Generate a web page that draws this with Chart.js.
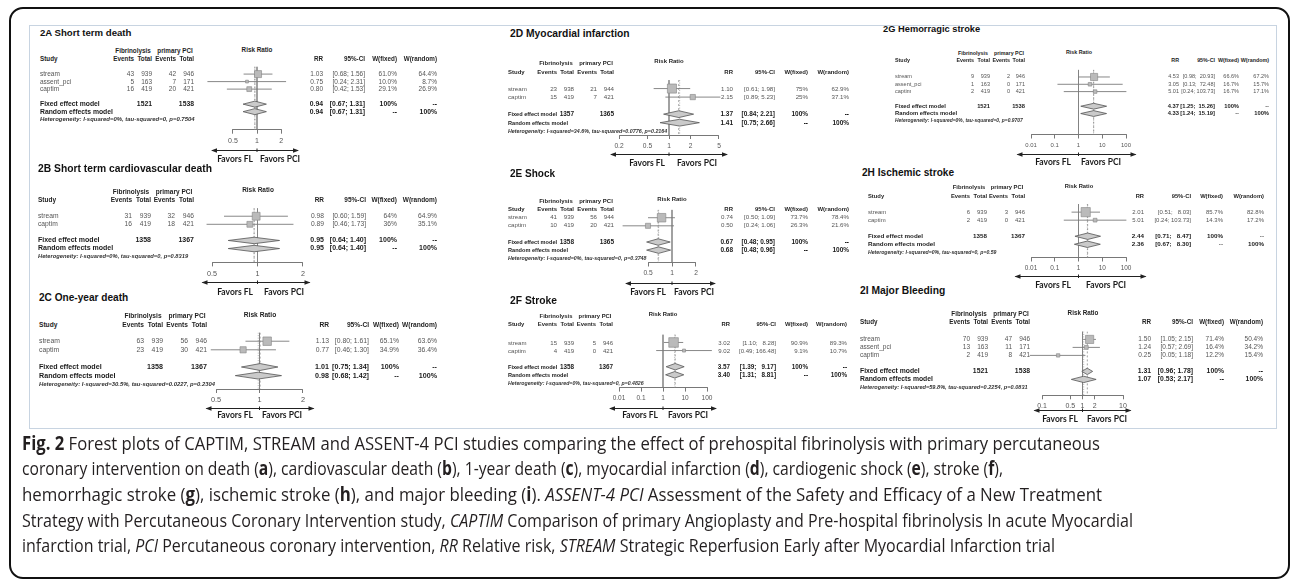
<!DOCTYPE html>
<html>
<head>
<meta charset="utf-8">
<title>Fig. 2 forest plots</title>
<script src="https://cdn.jsdelivr.net/npm/chart.js@4.4.1/dist/chart.umd.min.js"></script>
<style>
  html, body { margin: 0; padding: 0; background: #fff; }
  body { position: relative; width: 1292px; height: 582px; overflow: hidden; font-family: "Liberation Sans", Arial, sans-serif; }
  #frame { position: absolute; left: 9px; top: 7px; width: 1281px; height: 572px; box-sizing: border-box; border: 2px solid #111; border-radius: 14px; }
  #box { position: absolute; left: 29px; top: 25px; width: 1248px; height: 404px; box-sizing: border-box; border: 1.5px solid #c8d4e1; }
  canvas { position: absolute; }
  .t { position: absolute; font-size: 20px; line-height: 1; white-space: pre; transform-origin: 0 0; color: #555; }
  .title { font-weight: bold; color: #111; }
  .hd { font-weight: bold; color: #1e1e1e; }
  .rw { color: #555; }
  .pl { font-weight: bold; color: #1a1a1a; }
  .het { font-weight: bold; font-style: italic; color: #333; }
  .fav { font-family: Lato, "Open Sans", sans-serif; font-weight: bold; color: #1a1a1a; }
  .cap { position: absolute; left: 22px; font-family: "Open Sans", sans-serif; font-size: 19px; line-height: 1; color: #231f20; white-space: nowrap; transform-origin: 0 0; }
</style>
</head>
<body>
<div id="frame"></div>
<div id="box"></div>
<script>
// ---- data ----
const panelTitles = [
  "2A Short term death", "2B Short term cardiovascular death", "2C One-year death",
  "2D Myocardial infarction", "2E Shock", "2F Stroke",
  "2G Hemorragic stroke", "2H Ischemic stroke", "2I Major Bleeding"
];
const studyNames = [
  ["stream", "assent_pci", "captim"], ["stream", "captim"], ["stream", "captim"],
  ["stream", "captim"], ["stream", "captim"], ["stream", "captim"],
  ["stream", "assent_pci", "captim"], ["stream", "captim"], ["stream", "assent_pci", "captim"]
];
const eventsFL = [[43, 5, 16], [31, 16], [63, 23], [23, 15], [41, 10], [15, 4], [9, 1, 2], [6, 2], [70, 13, 2]];
const totalFL = [[939, 163, 419], [939, 419], [939, 419], [938, 419], [939, 419], [939, 419], [939, 163, 419], [939, 419], [939, 163, 419]];
const eventsPCI = [[42, 7, 20], [32, 18], [56, 30], [21, 7], [56, 20], [5, 0], [2, 0, 0], [3, 0], [47, 11, 8]];
const totalPCI = [[946, 171, 421], [946, 421], [946, 421], [944, 421], [944, 421], [946, 421], [946, 171, 421], [946, 421], [946, 171, 421]];
const rrStudy = [[1.03, 0.75, 0.80], [0.98, 0.89], [1.13, 0.77], [1.10, 2.15], [0.74, 0.50], [3.02, 9.02], [4.53, 3.05, 5.01], [2.01, 5.01], [1.50, 1.24, 0.25]];
const ciLow = [[0.68, 0.24, 0.42], [0.60, 0.46], [0.80, 0.46], [0.61, 0.89], [0.50, 0.24], [1.10, 0.49], [0.98, 0.13, 0.24], [0.51, 0.24], [1.05, 0.57, 0.05]];
const ciHigh = [[1.56, 2.31, 1.53], [1.59, 1.73], [1.61, 1.30], [1.98, 5.23], [1.09, 1.06], [8.28, 166.48], [20.93, 72.48, 103.73], [8.03, 103.73], [2.15, 2.69, 1.18]];
const weightFixed = [["61.0%", "10.0%", "29.1%"], ["64%", "36%"], ["65.1%", "34.9%"], ["75%", "25%"], ["73.7%", "26.3%"], ["90.9%", "9.1%"], ["66.6%", "16.7%", "16.7%"], ["85.7%", "14.3%"], ["71.4%", "16.4%", "12.2%"]];
const weightRandom = [["64.4%", "8.7%", "26.9%"], ["64.9%", "35.1%"], ["63.6%", "36.4%"], ["62.9%", "37.1%"], ["78.4%", "21.6%"], ["89.3%", "10.7%"], ["67.2%", "15.7%", "17.1%"], ["82.8%", "17.2%"], ["50.4%", "34.2%", "15.4%"]];
const pooledTotalFL = [1521, 1358, 1358, 1357, 1358, 1358, 1521, 1358, 1521];
const pooledTotalPCI = [1538, 1367, 1367, 1365, 1365, 1367, 1538, 1367, 1538];
const fixedRR = [0.94, 0.95, 1.01, 1.37, 0.67, 3.57, 4.37, 2.44, 1.31];
const fixedLow = [0.67, 0.64, 0.75, 0.84, 0.48, 1.39, 1.25, 0.71, 0.96];
const fixedHigh = [1.31, 1.40, 1.34, 2.21, 0.95, 9.17, 15.26, 8.47, 1.78];
const randomRR = [0.94, 0.95, 0.98, 1.41, 0.68, 3.40, 4.33, 2.36, 1.07];
const randomLow = [0.67, 0.64, 0.68, 0.75, 0.48, 1.31, 1.24, 0.67, 0.53];
const randomHigh = [1.31, 1.40, 1.42, 2.66, 0.96, 8.81, 15.19, 8.30, 2.17];
const heterogeneity = [
  "I-squared=0%, tau-squared=0, p=0.7504", "I-squared=0%, tau-squared=0, p=0.8319",
  "I-squared=30.5%, tau-squared=0.0227, p=0.2304", "I-squared=34.6%, tau-squared=0.0776, p=0.2164",
  "I-squared=0%, tau-squared=0, p=0.3748", "I-squared=0%, tau-squared=0, p=0.4826",
  "I-squared=0%, tau-squared=0, p=0.9707", "I-squared=0%, tau-squared=0, p=0.59",
  "I-squared=59.8%, tau-squared=0.2254, p=0.0831"
];
const axisTicks = [
  [0.5, 1, 2], [0.5, 1, 2], [0.5, 1, 2],
  [0.2, 0.5, 1, 2, 5], [0.5, 1, 2], [0.01, 0.1, 1, 10, 100],
  [0.01, 0.1, 1, 10, 100], [0.01, 0.1, 1, 10, 100], [0.1, 0.5, 1, 2, 10]
];

// ---- page layout of each panel (pixels) ----
// fs = text scale, one = x of RR 1, dec = px per decade, row1 = y of first study,
// hdr = rows of the two header lines, ev3 = right edge of the last count column,
// rr / wr = left and right ends of the RR table
const layout = [
  { tx: 40, ty: 33, tsz: 9.6, fs: 1.0, hs: 1.06, hdr: [-2.1, -1.05], sx: 40, ev3: 194, rr: 310, wr: 437, row1: 73, pitch: 7.7, axisY: 130, one: 257, dec: 80, arrow: [45, 41], arrowOff: 20, favOff: 29, favGap: [4, 3] },
  { tx: 38, ty: 168, tsz: 10.3, fs: 1.03, hs: 1, hdr: [-2, -1], sx: 38, ev3: 194, rr: 310, wr: 437, row1: 214, pitch: 8.4, axisY: 262, one: 257.5, dec: 151, arrow: [55, 52], arrowOff: 20, favOff: 30, favGap: [5, 6] },
  { tx: 39, ty: 297, tsz: 10.1, fs: 1.05, hs: 1, hdr: [-1.9, -0.9], sx: 39, ev3: 207, rr: 315, wr: 437, row1: 339, pitch: 9, axisY: 389, one: 259.5, dec: 144.5, arrow: [53, 54], arrowOff: 19, favOff: 26, favGap: [7, 2] },
  { tx: 510, ty: 33, tsz: 10.3, fs: 0.95, hs: 1, hdr: [-2, -1], sx: 508, ev3: 614, rr: 720, wr: 849, row1: 86, pitch: 9, axisY: 135, one: 669, dec: 71.5, arrow: [58, 58], arrowOff: 19, favOff: 28, favGap: [4, 8] },
  { tx: 510, ty: 173, tsz: 10, fs: 0.95, hs: 1, hdr: [-1.05, -0.05], sx: 508, ev3: 614, rr: 720, wr: 849, row1: 215, pitch: 8.5, axisY: 262, one: 672, dec: 79.7, arrow: [46, 43], arrowOff: 20, favOff: 30, favGap: [6, 2] },
  { tx: 510, ty: 300, tsz: 10.3, fs: 0.93, hs: 1, hdr: [-2.35, -1.3], sx: 508, ev3: 613, rr: 718, wr: 847, row1: 340, pitch: 8.6, axisY: 388, one: 663, dec: 22, arrow: [53, 53], arrowOff: 20, favOff: 27, favGap: [5, 5] },
  { tx: 883, ty: 29, tsz: 9.3, fs: 0.85, hs: 1.03, hdr: [-2.2, -1.25], sx: 895, ev3: 1025, rr: 1173, wr: 1269, row1: 75, pitch: 7.5, axisY: 134, one: 1078.5, dec: 23.75, arrow: [61, 57], arrowOff: 19, favOff: 28, favGap: [8, 2] },
  { tx: 862, ty: 172, tsz: 10.1, fs: 0.92, hs: 1, hdr: [-2.05, -0.9], sx: 868, ev3: 1025, rr: 1132, wr: 1264, row1: 209, pitch: 8.5, axisY: 257, one: 1078.5, dec: 23.75, arrow: [63, 67], arrowOff: 18, favOff: 28, favGap: [8, 7] },
  { tx: 860, ty: 290, tsz: 10.3, fs: 1.0, hs: 1, hdr: [-2.1, -1.15], sx: 860, ev3: 1030, rr: 1138, wr: 1263, row1: 337, pitch: 8.3, axisY: 395, one: 1082.5, dec: 40.5, arrow: [48, 48], arrowOff: 15, favOff: 24, favGap: [5, 4] }
];

const captionLines = [
  "<b>Fig. 2</b> Forest plots of CAPTIM, STREAM and ASSENT-4 PCI studies comparing the effect of prehospital fibrinolysis with primary percutaneous",
  "coronary intervention on death (<b>a</b>), cardiovascular death (<b>b</b>), 1-year death (<b>c</b>), myocardial infarction (<b>d</b>), cardiogenic shock (<b>e</b>), stroke (<b>f</b>),",
  "hemorrhagic stroke (<b>g</b>), ischemic stroke (<b>h</b>), and major bleeding (<b>i</b>). <i>ASSENT-4 PCI</i> Assessment of the Safety and Efficacy of a New Treatment",
  "Strategy with Percutaneous Coronary Intervention study, <i>CAPTIM</i> Comparison of primary Angioplasty and Pre-hospital fibrinolysis In acute Myocardial",
  "infarction trial, <i>PCI</i> Percutaneous coronary intervention, <i>RR</i> Relative risk, <i>STREAM</i> Strategic Reperfusion Early after Myocardial Infarction trial"
];
const captionRight = [1100, 1003, 1102, 1133, 1055];
const captionTop = 443, captionPitch = 25.7;

Chart.defaults.font.family = '"Liberation Sans", Arial, sans-serif';
Chart.defaults.animation = false;

const meas = document.createElement("canvas").getContext("2d");
function textWidth(s, bold, size) {
  meas.font = (bold ? "bold " : "") + size + 'px "Liberation Sans", Arial';
  return meas.measureText(s).width;
}
const widest = (list, bold, size) => Math.max(...list.map(s => textWidth(String(s), bold, size)));

// text helper: tiny fonts are drawn at 20px and scaled down
function put(text, x, y, cls, align, size) {
  const d = document.createElement("div");
  d.className = "t " + cls;
  d.textContent = text;
  d.style.left = x + "px";
  d.style.top = y + "px";
  const tx = align === "right" ? "-100%" : align === "center" ? "-50%" : "0";
  d.style.transform = `scale(${size / 20}) translate(${tx}, -50%)`;
  document.body.appendChild(d);
}

// double-headed arrow under the axis, with a notch at RR = 1
const favorsArrow = {
  id: "favorsArrow",
  afterDraw(chart, args, opts) {
    const ctx = chart.ctx;
    const cx = chart.scales.x.getPixelForValue(1);
    const y = Math.round(chart.chartArea.bottom + opts.offset) + 0.5;
    const x0 = cx - opts.span[0], x1 = cx + opts.span[1];
    ctx.save();
    ctx.strokeStyle = "#222";
    ctx.fillStyle = "#222";
    ctx.lineWidth = 1;
    ctx.beginPath();
    ctx.moveTo(x0, y); ctx.lineTo(x1, y);
    ctx.moveTo(cx, y - 2); ctx.lineTo(cx, y + 1.5);
    ctx.stroke();
    ctx.beginPath();
    ctx.moveTo(x0 - 1, y); ctx.lineTo(x0 + 5, y - 2.2); ctx.lineTo(x0 + 5, y + 2.2); ctx.closePath();
    ctx.moveTo(x1 + 1, y); ctx.lineTo(x1 - 5, y - 2.2); ctx.lineTo(x1 - 5, y + 2.2); ctx.closePath();
    ctx.fill();
    ctx.restore();
  }
};

function drawPanel(k) {
  const L = layout[k];
  const fs = L.fs;
  const fb = 6.5 * fs, fh = 6.3 * fs, fp = 6.8 * fs;
  const n = studyNames[k].length;
  const ticks = axisTicks[k];
  const tmin = ticks[0], tmax = ticks[ticks.length - 1];
  const chartLeft = L.one + L.dec * Math.log10(tmin);
  const chartRight = L.one + L.dec * Math.log10(tmax);
  const cLeft = Math.floor(chartLeft - 75);
  const cRight = Math.ceil(chartRight + 75);
  const padTop = 4, bottomSpace = 40;
  const H = L.axisY - L.row1 + L.pitch;
  const cTop = L.row1 - L.pitch - padTop;
  const axisRow = 1 + (L.axisY - L.row1) / L.pitch;
  const fixedRow = n + 2, randomRow = n + 3;
  const rows = studyNames[k].map((s, i) => i + 1);

  const canvas = document.createElement("canvas");
  canvas.width = cRight - cLeft;
  canvas.height = Math.ceil(padTop + H + bottomSpace);
  canvas.style.left = cLeft + "px";
  canvas.style.top = cTop + "px";
  document.body.appendChild(canvas);

  const datasets = [];
  // study squares (area ~ fixed weight)
  datasets.push({
    type: "scatter",
    data: rrStudy[k].map((v, i) => ({ x: v, y: rows[i] })),
    pointStyle: "rect",
    pointRadius: weightFixed[k].map(w => 0.9 * Math.sqrt(parseFloat(w)) * (L.pitch / 7.7) / Math.SQRT2),
    backgroundColor: "#bababa",
    borderColor: "#858585",
    borderWidth: 0.6,
    clip: false
  });
  // confidence intervals
  rows.forEach((r, i) => {
    datasets.push({
      type: "line",
      data: [{ x: ciLow[k][i], y: r }, { x: ciHigh[k][i], y: r }],
      borderColor: "#7a7a7a", borderWidth: 0.9, pointRadius: 0, clip: false
    });
  });
  // pooled diamonds
  [[fixedRR, fixedLow, fixedHigh, fixedRow], [randomRR, randomLow, randomHigh, randomRow]].forEach(([e, lo, hi, r]) => {
    datasets.push({
      type: "line",
      data: [{ x: lo[k], y: r }, { x: e[k], y: r - 0.4 }, { x: hi[k], y: r }, { x: e[k], y: r + 0.4 }, { x: lo[k], y: r }],
      fill: "shape", backgroundColor: "#cacaca", borderColor: "#555", borderWidth: 0.8, pointRadius: 0, clip: false
    });
  });
  // dashed line at fixed estimate, dotted at random estimate, solid at no effect
  datasets.push({
    type: "line",
    data: [{ x: fixedRR[k], y: 0 }, { x: fixedRR[k], y: axisRow }],
    borderColor: "#8c8c8c", borderWidth: 0.8, borderDash: [2, 2], pointRadius: 0
  });
  datasets.push({
    type: "line",
    data: [{ x: randomRR[k], y: 0 }, { x: randomRR[k], y: axisRow }],
    borderColor: "#a0a0a0", borderWidth: 0.8, borderDash: [1, 1.5], pointRadius: 0
  });
  datasets.push({
    type: "line",
    data: [{ x: 1, y: 0 }, { x: 1, y: axisRow }],
    borderColor: "#808080", borderWidth: 0.7, pointRadius: 0
  });

  const chart = new Chart(canvas, {
    type: "scatter",
    data: { datasets },
    plugins: [favorsArrow],
    options: {
      responsive: false,
      animation: false,
      events: [],
      layout: { padding: { left: chartLeft - cLeft, right: cRight - chartRight, top: padTop, bottom: 22 } },
      plugins: {
        legend: { display: false },
        tooltip: { enabled: false },
        favorsArrow: { offset: L.arrowOff, span: L.arrow }
      },
      scales: {
        x: {
          type: "logarithmic",
          min: tmin,
          max: tmax,
          afterBuildTicks: s => { s.ticks = ticks.map(v => ({ value: v })); },
          ticks: { autoSkip: false, maxRotation: 0, padding: 3, color: "#555", font: { size: 7 * fs }, callback: v => String(v) },
          grid: { drawOnChartArea: false, drawTicks: true, tickLength: 4, color: "#555", lineWidth: 0.8 },
          border: { display: true, color: "#555", width: 0.8 }
        },
        y: { type: "linear", display: false, reverse: true, min: 0, max: axisRow }
      }
    }
  });
  const diff = chart.chartArea.bottom - (padTop + H);
  if (Math.abs(diff) > 0.01) {
    chart.options.layout.padding.bottom += diff;
    chart.update();
  }

  const rowY = v => cTop + chart.scales.y.getPixelForValue(v);
  const fmt = v => v.toFixed(2);
  const lows = ciLow[k].concat([fixedLow[k], randomLow[k]]).map(fmt);
  const highs = ciHigh[k].concat([fixedHigh[k], randomHigh[k]]).map(fmt);
  const wl = Math.max(...lows.map(s => s.length));
  const wh = Math.max(...highs.map(s => s.length));
  const ciText = (lo, hi) => "[" + fmt(lo).padStart(wl) + "; " + fmt(hi).padStart(wh) + "]";

  // column edges of the count table (right aligned, built from the right end)
  const gl = 3 * fs;
  const wE1 = Math.max(textWidth("Events", true, fh), widest(eventsFL[k], false, fb));
  const wT1 = Math.max(textWidth("Total", true, fh), widest(totalFL[k], false, fb), textWidth(String(pooledTotalFL[k]), true, fp));
  const wE2 = Math.max(textWidth("Events", true, fh), widest(eventsPCI[k], false, fb));
  const wT2 = Math.max(textWidth("Total", true, fh), widest(totalPCI[k], false, fb), textWidth(String(pooledTotalPCI[k]), true, fp));
  const ev3 = L.ev3, ev2 = ev3 - wT2 - gl, ev1 = ev2 - wE2 - gl, ev0 = ev1 - wT1 - gl;

  // pooled labels must stay clear of the pooled total in the first count column
  const room = ev1 - textWidth(String(pooledTotalFL[k]), true, fp) - 3 - L.sx;
  const fpl = Math.min(fp, fp * room / textWidth("Fixed effect model", true, fp));

  // columns of the RR table
  const ciStrings = rows.map((r, i) => ciText(ciLow[k][i], ciHigh[k][i]));
  const ciPooled = [ciText(fixedLow[k], fixedHigh[k]), ciText(randomLow[k], randomHigh[k])];
  const wRR = Math.max(textWidth("RR", true, fh), widest(rrStudy[k].map(fmt), false, fb), widest([fmt(fixedRR[k]), fmt(randomRR[k])], true, fp));
  const wCI = Math.max(textWidth("95%-CI", true, fh), widest(ciStrings, false, fb), widest(ciPooled, true, fp));
  const wWf = Math.max(textWidth("W(fixed)", true, fh), widest(weightFixed[k], false, fb), textWidth("100%", true, fp));
  const wWr = Math.max(textWidth("W(random)", true, fh), widest(weightRandom[k], false, fb), textWidth("100%", true, fp));
  let gr = (L.wr - L.rr - (wRR + wCI + wWf + wWr)) / 3;
  if (gr < 2.5 * fs) gr = 2.5 * fs;
  const wrR = L.wr, wfR = wrR - wWr - gr, ciR = wfR - wWf - gr, rrR = ciR - wCI - gr;

  put(panelTitles[k], L.tx, L.ty, "title", "left", L.tsz);

  const h1 = rowY(L.hdr[0]), h2 = rowY(L.hdr[1]);
  put("Fibrinolysis", (ev0 - wE1 + ev1) / 2, h1, "hd", "center", fh);
  put("primary PCI", (ev2 - wE2 + ev3) / 2, h1, "hd", "center", fh);
  put("Risk Ratio", L.one, h1 - 1.5, "hd", "center", fh);
  put("Study", L.sx, h2, "hd", "left", fh);
  put("Events", ev0, h2, "hd", "right", fh);
  put("Total", ev1, h2, "hd", "right", fh);
  put("Events", ev2, h2, "hd", "right", fh);
  put("Total", ev3, h2, "hd", "right", fh);
  put("RR", rrR, h2, "hd", "right", fh);
  put("95%-CI", ciR, h2, "hd", "right", fh);
  put("W(fixed)", wfR, h2, "hd", "right", fh);
  put("W(random)", wrR, h2, "hd", "right", fh);

  rows.forEach((r, i) => {
    const y = rowY(r);
    put(studyNames[k][i], L.sx, y, "rw", "left", fb);
    put(String(eventsFL[k][i]), ev0, y, "rw", "right", fb);
    put(String(totalFL[k][i]), ev1, y, "rw", "right", fb);
    put(String(eventsPCI[k][i]), ev2, y, "rw", "right", fb);
    put(String(totalPCI[k][i]), ev3, y, "rw", "right", fb);
    put(fmt(rrStudy[k][i]), rrR, y, "rw", "right", fb);
    put(ciStrings[i], ciR, y, "rw", "right", fb);
    put(weightFixed[k][i], wfR, y, "rw", "right", fb);
    put(weightRandom[k][i], wrR, y, "rw", "right", fb);
  });

  const yf = rowY(fixedRow), yr = rowY(randomRow);
  put("Fixed effect model", L.sx, yf, "pl", "left", fpl);
  put(String(pooledTotalFL[k]), ev1, yf, "pl", "right", fp);
  put(String(pooledTotalPCI[k]), ev3, yf, "pl", "right", fp);
  put(fmt(fixedRR[k]), rrR, yf, "pl", "right", fp);
  put(ciPooled[0], ciR, yf, "pl", "right", fp);
  put("100%", wfR, yf, "pl", "right", fp);
  put("--", wrR, yf, "pl", "right", fp);
  put("Random effects model", L.sx, yr, "pl", "left", fpl);
  put(fmt(randomRR[k]), rrR, yr, "pl", "right", fp);
  put(ciPooled[1], ciR, yr, "pl", "right", fp);
  put("--", wfR, yr, "pl", "right", fp);
  put("100%", wrR, yr, "pl", "right", fp);
  put("Heterogeneity: " + heterogeneity[k], L.sx, rowY(n + 4), "het", "left", 5.6 * fs * L.hs);

  const cx = cLeft + chart.scales.x.getPixelForValue(1);
  const yFav = cTop + chart.chartArea.bottom + L.favOff;
  put("Favors FL", cx - L.favGap[0], yFav, "fav", "right", 8.5);
  put("Favors PCI", cx + L.favGap[1], yFav, "fav", "left", 8.5);
}

panelTitles.forEach((t, k) => drawPanel(k));

// caption, each line fitted to its width in the original
captionLines.forEach((html, i) => {
  const d = document.createElement("div");
  d.className = "cap";
  d.innerHTML = html;
  d.style.top = (captionTop + i * captionPitch - 9.5) + "px";
  document.body.appendChild(d);
  const w = d.getBoundingClientRect().width;
  d.style.transform = `scaleX(${(captionRight[i] - 22) / w})`;
});
</script>
</body>
</html>
